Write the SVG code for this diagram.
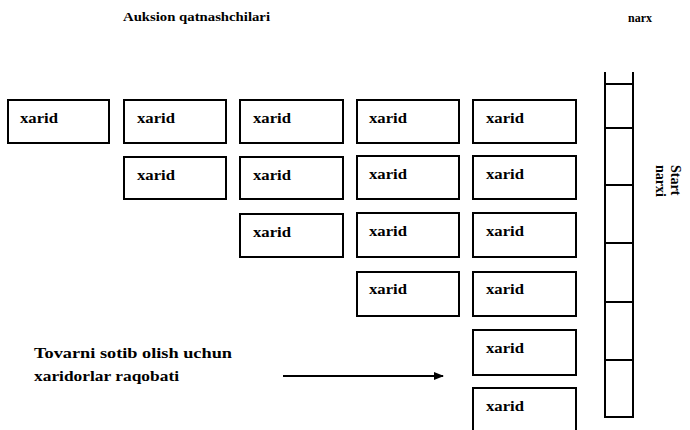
<svg xmlns="http://www.w3.org/2000/svg" width="690" height="430" viewBox="0 0 690 430">
<style>
.box{fill:#fff;stroke:#000;stroke-width:2}
.lbl{font-family:"Liberation Serif","Times New Roman",serif;font-weight:bold;font-size:14px;fill:#000}
.t{font-family:"Liberation Serif","Times New Roman",serif;font-weight:bold;fill:#000}
.ln{stroke:#000;stroke-width:2;fill:none}
</style>
<defs>
<marker id="ah" viewBox="0 0 10 10" refX="9" refY="5" markerWidth="5" markerHeight="5" orient="auto" markerUnits="strokeWidth">
<path d="M0,1 L10,5 L0,9 z" fill="#000"/>
</marker>
</defs>
<rect width="690" height="430" fill="#fff"/>
<text class="t" x="123" y="21" font-size="12" textLength="147" lengthAdjust="spacingAndGlyphs">Auksion qatnashchilari</text>
<text class="t" x="628" y="22" font-size="12" textLength="24" lengthAdjust="spacingAndGlyphs">narx</text>

<g id="r1c1"><rect class="box" x="8" y="100" width="101" height="43"/><text class="lbl" x="20" y="123" textLength="38" lengthAdjust="spacingAndGlyphs">xarid</text></g>
<g id="r1c2"><rect class="box" x="124" y="100" width="102" height="43"/><text class="lbl" x="137" y="123" textLength="38" lengthAdjust="spacingAndGlyphs">xarid</text></g>
<g id="r1c3"><rect class="box" x="240" y="100" width="103" height="43"/><text class="lbl" x="253" y="123" textLength="38" lengthAdjust="spacingAndGlyphs">xarid</text></g>
<g id="r1c4"><rect class="box" x="357" y="100" width="102" height="43"/><text class="lbl" x="369" y="123" textLength="38" lengthAdjust="spacingAndGlyphs">xarid</text></g>
<g id="r1c5"><rect class="box" x="473" y="100" width="103" height="43"/><text class="lbl" x="486" y="123" textLength="38" lengthAdjust="spacingAndGlyphs">xarid</text></g>

<g id="r2c2"><rect class="box" x="124" y="157" width="102" height="42"/><text class="lbl" x="137" y="180" textLength="38" lengthAdjust="spacingAndGlyphs">xarid</text></g>
<g id="r2c3"><rect class="box" x="240" y="157" width="103" height="42"/><text class="lbl" x="253" y="180" textLength="38" lengthAdjust="spacingAndGlyphs">xarid</text></g>
<g id="r2c4"><rect class="box" x="357" y="156" width="102" height="43"/><text class="lbl" x="369" y="179" textLength="38" lengthAdjust="spacingAndGlyphs">xarid</text></g>
<g id="r2c5"><rect class="box" x="473" y="156" width="103" height="43"/><text class="lbl" x="486" y="179" textLength="38" lengthAdjust="spacingAndGlyphs">xarid</text></g>

<g id="r3c3"><rect class="box" x="240" y="214" width="103" height="43"/><text class="lbl" x="253" y="237" textLength="38" lengthAdjust="spacingAndGlyphs">xarid</text></g>
<g id="r3c4"><rect class="box" x="357" y="213" width="102" height="44"/><text class="lbl" x="369" y="236" textLength="38" lengthAdjust="spacingAndGlyphs">xarid</text></g>
<g id="r3c5"><rect class="box" x="473" y="213" width="103" height="44"/><text class="lbl" x="486" y="236" textLength="38" lengthAdjust="spacingAndGlyphs">xarid</text></g>

<g id="r4c4"><rect class="box" x="357" y="272" width="102" height="44"/><text class="lbl" x="369" y="294" textLength="38" lengthAdjust="spacingAndGlyphs">xarid</text></g>
<g id="r4c5"><rect class="box" x="473" y="272" width="103" height="44"/><text class="lbl" x="486" y="294" textLength="38" lengthAdjust="spacingAndGlyphs">xarid</text></g>

<g id="r5c5"><rect class="box" x="473" y="330" width="103" height="45"/><text class="lbl" x="486" y="353" textLength="38" lengthAdjust="spacingAndGlyphs">xarid</text></g>
<g id="r6c5"><rect class="box" x="473" y="388" width="103" height="50"/><text class="lbl" x="486" y="411" textLength="38" lengthAdjust="spacingAndGlyphs">xarid</text></g>

<g id="price-scale">
<path class="ln" d="M605,72 V417 H633 V72"/>
<path class="ln" d="M605,84 H633 M605,128 H633 M605,185 H633 M605,243 H633 M605,302 H633 M605,360 H633"/>
</g>
<g id="start-price">
<text class="t" font-size="14" transform="translate(671,165) rotate(90)"><tspan x="0" y="0">Start</tspan><tspan x="0" y="15">narxi</tspan></text>
</g>

<g id="competition-label">
<text class="t" font-size="14" x="34" y="358" textLength="198" lengthAdjust="spacingAndGlyphs">Tovarni sotib olish uchun</text>
<text class="t" font-size="14" x="34" y="381" textLength="145" lengthAdjust="spacingAndGlyphs">xaridorlar raqobati</text>
</g>

<g id="connectors">
<line class="ln" x1="283" y1="376" x2="443" y2="376" stroke-width="1.5" marker-end="url(#ah)"/>
</g>
</svg>
